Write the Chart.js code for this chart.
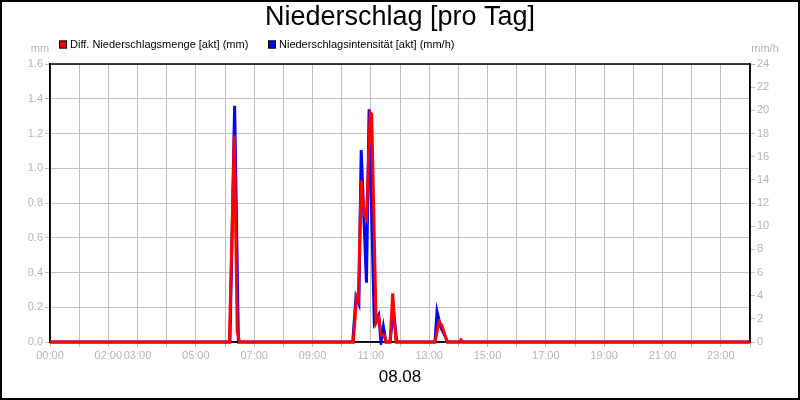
<!DOCTYPE html>
<html>
<head>
<meta charset="utf-8">
<script src="https://cdn.jsdelivr.net/npm/chart.js@4"></script>
<style>
html,body{margin:0;padding:0;background:#fff;}
#wrap{width:800px;height:400px;position:relative;}
</style>
</head>
<body>
<div id="wrap"><canvas id="c"></canvas></div>
<script>
// ---- data (hours of day, decimal) ----
const titleText = "Niederschlag [pro Tag]";
const dateLabel = "08.08";
const seriesNames = ["Diff. Niederschlagsmenge [akt] (mm)", "Niederschlagsintensität [akt] (mm/h)"];
const unitLeft = "mm";
const unitRight = "mm/h";
const xLabelHours = [0, 2, 3, 5, 7, 9, 11, 13, 15, 17, 19, 21, 23];

const mengeTimes = [0, 6.15, 6.32, 6.42, 6.50, 10.40, 10.51, 10.57, 10.67, 10.77, 10.85, 10.98, 11.03, 11.18, 11.27, 11.36, 11.46, 11.52, 11.66, 11.75, 11.86, 13.20, 13.34, 13.43, 13.54, 13.62, 14.03, 14.09, 14.15, 24];
const mengeValues = [0, 0, 1.19, 0.06, 0, 0, 0.26, 0.24, 0.93, 0.74, 0.71, 1.32, 1.31, 0.11, 0.14, 0.04, 0.04, 0, 0, 0.28, 0, 0, 0.117, 0.098, 0.04, 0, 0, 0.012, 0, 0];

const intensTimes = [0, 6.17, 6.33, 6.46, 10.38, 10.49, 10.59, 10.67, 10.85, 10.94, 11.12, 11.27, 11.35, 11.43, 11.52, 11.66, 11.77, 11.89, 13.20, 13.27, 13.39, 13.54, 13.63, 24];
const intensValues = [0, 0, 20.4, 0, 0, 3.91, 3.28, 16.58, 5.12, 20.09, 1.61, 2.33, 0, 1.32, 0, 0, 2.76, 0, 0, 2.62, 1.32, 0.52, 0, 0];

const redColor = "#ff0000";
const blueColor = "#0000ff";
const gray = "#b4b4b4";
const gridGray = "#c0c0c0";
const FONT = "'Liberation Sans', Arial, sans-serif";

const pad2 = n => (n < 10 ? "0" : "") + n;

const decorPlugin = {
  id: "decor",
  beforeDatasetsDraw(chart) {
    const {ctx, chartArea: a} = chart;
    ctx.save();
    ctx.strokeStyle = "#000";
    ctx.lineWidth = 1.5;
    ctx.strokeRect(a.left, a.top, a.right - a.left, a.bottom - a.top);
    ctx.restore();
  },
  afterDraw(chart) {
    const {ctx} = chart;
    ctx.save();
    // unit labels
    ctx.font = "11px " + FONT;
    ctx.fillStyle = gray;
    ctx.textBaseline = "middle";
    ctx.textAlign = "center";
    ctx.fillText(unitLeft, 40, 49);
    ctx.fillText(unitRight, 765, 49);
    // legend
    const items = chart.data.datasets;
    const boxX = [59, 268];
    ctx.textAlign = "left";
    items.forEach((ds, i) => {
      ctx.fillStyle = ds.borderColor;
      ctx.fillRect(boxX[i], 40.5, 8, 8);
      ctx.strokeStyle = "#000";
      ctx.lineWidth = 1;
      ctx.strokeRect(boxX[i] + 0.5, 40.5 + 0.5, 7, 7);
      ctx.fillStyle = "#000";
      ctx.fillText(ds.label, boxX[i] + 11, 44.5);
    });
    // outer border
    ctx.strokeStyle = "#000";
    ctx.lineWidth = 2;
    ctx.strokeRect(1, 1, 798, 398);
    ctx.restore();
  }
};

new Chart(document.getElementById("c"), {
  type: "line",
  data: {
    datasets: [
      {
        label: seriesNames[0],
        data: mengeTimes.map((t, i) => ({x: t, y: mengeValues[i]})),
        borderColor: redColor,
        backgroundColor: redColor,
        borderWidth: 3,
        pointRadius: 0,
        tension: 0,
        clip: 3,
        yAxisID: "y"
      },
      {
        label: seriesNames[1],
        data: intensTimes.map((t, i) => ({x: t, y: intensValues[i]})),
        borderColor: blueColor,
        backgroundColor: blueColor,
        borderWidth: 3,
        pointRadius: 0,
        tension: 0,
        clip: 3,
        yAxisID: "y2"
      }
    ]
  },
  options: {
    responsive: true,
    maintainAspectRatio: false,
    animation: false,
    layout: {padding: 0},
    plugins: {
      legend: {display: false},
      tooltip: {enabled: false},
      title: {
        display: true,
        text: titleText,
        color: "#000",
        font: {family: FONT, size: 27, weight: "normal"},
        padding: {top: 1, bottom: 30.6}
      }
    },
    scales: {
      x: {
        type: "linear",
        position: "bottom",
        min: 0,
        max: 24,
        afterFit(s) { s.height = 58; },
        ticks: {
          stepSize: 1,
          autoSkip: false,
          maxRotation: 0,
          color: gray,
          padding: 2,
          font: {family: FONT, size: 11},
          callback: v => (xLabelHours.includes(v) ? pad2(v) + ":00" : "")
        },
        grid: {color: gridGray, tickColor: gridGray, tickLength: 5, lineWidth: 1},
        border: {color: "#000", width: 1.5},
        title: {
          display: true,
          text: dateLabel,
          color: "#000",
          font: {family: FONT, size: 17},
          padding: {top: 0, bottom: 12}
        }
      },
      y: {
        position: "left",
        min: 0,
        max: 1.6,
        afterFit(s) { s.width = 50; },
        ticks: {
          stepSize: 0.2,
          color: gray,
          padding: 2,
          font: {family: FONT, size: 11},
          callback: v => Number(v).toFixed(1)
        },
        grid: {color: gridGray, tickColor: gridGray, tickLength: 5, lineWidth: 1},
        border: {color: "#000", width: 1.5}
      },
      y2: {
        position: "right",
        min: 0,
        max: 24,
        afterFit(s) { s.width = 50; },
        ticks: {
          stepSize: 2,
          color: gray,
          padding: 2,
          font: {family: FONT, size: 11}
        },
        grid: {drawOnChartArea: false, color: gridGray, tickColor: gridGray, tickLength: 5},
        border: {color: "#000", width: 1.5}
      }
    }
  },
  plugins: [decorPlugin]
});
</script>
</body>
</html>
